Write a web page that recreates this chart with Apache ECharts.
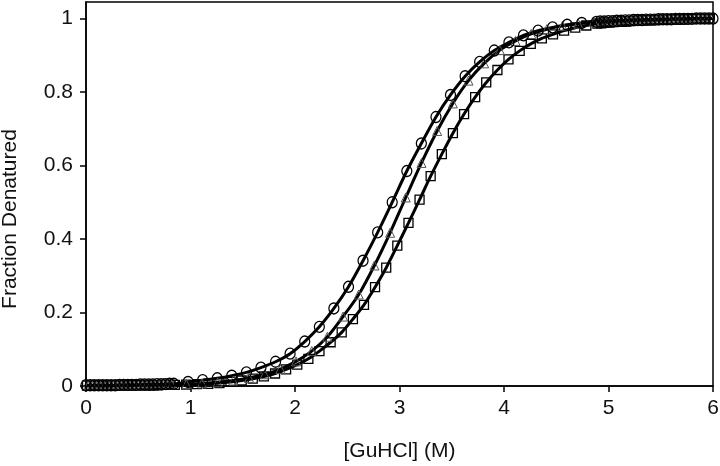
<!DOCTYPE html>
<html><head><meta charset="utf-8">
<script src="https://cdn.jsdelivr.net/npm/echarts@6/dist/echarts.min.js"></script>
<style>html,body{margin:0;padding:0;background:#fff}#c{width:720px;height:466px}</style>
</head><body><div id="c"></div>
<script>
const xTicks = [0, 1, 2, 3, 4, 5, 6];
const yTicks = [0, 0.2, 0.4, 0.6, 0.8, 1];
const yTickLabels = ['0', '0.2', '0.4', '0.6', '0.8', '1'];

// circles
const circleX = [0.00,0.04,0.08,0.12,0.16,0.20,0.24,0.28,0.32,0.36,0.40,0.44,0.48,0.52,0.56,0.60,0.64,0.68,0.72,0.76,0.80,0.84,
  0.977,1.116,1.256,1.395,1.535,1.674,1.814,1.953,2.093,2.233,2.372,2.512,2.651,2.791,2.930,3.070,3.209,3.349,3.488,3.628,3.767,3.907,4.047,4.186,4.326,4.465,4.605,4.744,4.884,
  4.92,4.96,5.00,5.04,5.08,5.12,5.16,5.20,5.24,5.28,5.32,5.36,5.40,5.44,5.48,5.52,5.56,5.60,5.64,5.68,5.72,5.76,5.80,5.84,5.88,5.92,5.96,6.00];
const circleY = [0.002,0.002,0.002,0.002,0.002,0.002,0.002,0.002,0.003,0.003,0.003,0.003,0.003,0.004,0.004,0.004,0.004,0.005,0.005,0.005,0.006,0.006,
  0.011,0.016,0.021,0.028,0.037,0.050,0.066,0.088,0.121,0.161,0.211,0.270,0.341,0.418,0.500,0.585,0.660,0.732,0.792,0.843,0.882,0.913,0.935,0.954,0.967,0.976,0.983,0.988,0.991,
  0.992,0.992,0.993,0.993,0.994,0.994,0.995,0.995,0.996,0.996,0.996,0.997,0.997,0.997,0.998,0.998,0.998,0.998,0.999,0.999,0.999,0.999,0.999,1.000,1.000,1.000,1.000,1.000];

// triangles
const triX = [0.02,0.06,0.10,0.14,0.18,0.22,0.26,0.30,0.34,0.38,0.42,0.46,0.50,0.54,0.58,0.62,0.66,0.70,0.74,0.78,0.82,
  0.96,1.11,1.26,1.41,1.56,1.71,1.86,2.01,2.16,2.31,2.46,2.61,2.76,2.91,3.06,3.21,3.36,3.51,3.66,3.81,3.96,4.11,4.26,4.41,4.56,4.71,4.86,
  4.94,4.98,5.02,5.06,5.10,5.14,5.18,5.22,5.26,5.30,5.34,5.38,5.42,5.46,5.50,5.54,5.58,5.62,5.66,5.70,5.74,5.78,5.82,5.86,5.90,5.94,5.98];
const triY = [0.001,0.001,0.001,0.001,0.001,0.001,0.001,0.001,0.002,0.002,0.002,0.002,0.002,0.002,0.003,0.003,0.003,0.003,0.004,0.004,0.004,
  0.005,0.007,0.010,0.015,0.022,0.032,0.046,0.067,0.095,0.134,0.189,0.249,0.328,0.417,0.513,0.607,0.694,0.769,0.831,0.878,0.914,0.939,0.958,0.971,0.980,0.986,0.991,
  0.992,0.993,0.993,0.994,0.994,0.995,0.995,0.996,0.996,0.996,0.997,0.997,0.997,0.998,0.998,0.998,0.998,0.999,0.999,0.999,0.999,0.999,1.000,1.000,1.000,1.000,1.000];

// squares
const squareX = [0.01,0.05,0.09,0.13,0.17,0.21,0.25,0.29,0.33,0.37,0.41,0.45,0.49,0.53,0.57,0.61,0.65,0.69,0.73,0.77,0.81,0.85,
  0.958,1.064,1.170,1.277,1.383,1.490,1.596,1.702,1.809,1.915,2.022,2.128,2.234,2.341,2.447,2.554,2.660,2.766,2.873,2.979,3.086,3.192,3.298,3.405,3.511,3.618,3.724,3.830,3.937,4.043,4.150,4.256,4.362,4.469,4.575,4.682,4.788,4.894,
  4.93,4.97,5.01,5.05,5.09,5.13,5.17,5.21,5.25,5.29,5.33,5.37,5.41,5.45,5.49,5.53,5.57,5.61,5.65,5.69,5.73,5.77,5.81,5.85,5.89,5.93,5.97];
const squareY = [0.001,0.001,0.001,0.001,0.001,0.001,0.001,0.001,0.001,0.001,0.002,0.002,0.002,0.002,0.002,0.002,0.002,0.002,0.003,0.003,0.003,0.003,
  0.004,0.005,0.006,0.008,0.011,0.015,0.020,0.026,0.034,0.045,0.058,0.074,0.095,0.119,0.146,0.182,0.221,0.269,0.322,0.382,0.444,0.507,0.571,0.631,0.688,0.740,0.786,0.826,0.860,0.889,0.912,0.931,0.946,0.957,0.967,0.975,0.981,0.986,
  0.987,0.988,0.989,0.990,0.991,0.992,0.992,0.993,0.994,0.994,0.995,0.995,0.996,0.996,0.997,0.997,0.997,0.998,0.998,0.998,0.998,0.999,0.999,0.999,0.999,0.999,0.999];

const FONT = 'Liberation Sans, Arial, sans-serif';
const pairs = (xs, ys) => xs.map((x, i) => [x, ys[i]]);

function mkSeries(name, xs, ys, symbol, size, border, bw) {
  return {
    name, type: 'line', data: pairs(xs, ys), smooth: 0.3, clip: false,
    symbol, symbolSize: size, showAllSymbol: true,
    lineStyle: { color: '#000', width: 3 },
    itemStyle: { color: 'rgba(0,0,0,0)', borderColor: border, borderWidth: bw },
    emphasis: { disabled: true }, animation: false
  };
}

const chart = echarts.init(document.getElementById('c'), null, { renderer: 'canvas' });
chart.setOption({
  animation: false,
  backgroundColor: '#fff',
  grid: { left: 86, right: 7, top: 2, bottom: 80, show: true, borderColor: '#000', borderWidth: 1.5,
          backgroundColor: 'rgba(0,0,0,0)', containLabel: false, outerBoundsMode: 'none' },
  xAxis: {
    type: 'value', min: 0, max: 6, interval: 1,
    name: '[GuHCl] (M)', nameLocation: 'middle', nameGap: 55,
    nameTextStyle: { fontFamily: FONT, fontSize: 21, color: '#111' },
    axisLine: { show: true, onZero: false, lineStyle: { color: '#000', width: 1.5 } },
    axisTick: { show: true, length: 6, lineStyle: { color: '#000', width: 1.5 }, customValues: xTicks },
    axisLabel: { fontFamily: FONT, fontSize: 21, color: '#111', margin: 12, customValues: xTicks, formatter: v => String(v) },
    splitLine: { show: false }
  },
  yAxis: {
    type: 'value', min: 0, max: 1.045, interval: 0.2,
    name: 'Fraction Denatured', nameLocation: 'middle', nameGap: 65, nameRotate: 90,
    nameTextStyle: { fontFamily: FONT, fontSize: 21, color: '#111', padding: [0, 50, 0, 0] },
    axisLine: { show: true, lineStyle: { color: '#000', width: 1.5 } },
    axisTick: { show: true, length: 6, lineStyle: { color: '#000', width: 1.5 }, customValues: yTicks },
    axisLabel: {
      fontFamily: FONT, fontSize: 21, color: '#111', margin: 13, customValues: yTicks,
      formatter: v => { const i = yTicks.findIndex(t => Math.abs(t - v) < 1e-6); return i >= 0 ? yTickLabels[i] : ''; }
    },
    splitLine: { show: false }
  },
  series: [
    mkSeries('squares', squareX, squareY, 'rect', 9, '#000', 1.3),
    mkSeries('triangles', triX, triY, 'triangle', 9, '#555', 1),
    mkSeries('circles', circleX, circleY, 'circle', [10, 11], '#000', 1.3)
  ]
});
</script>
</body></html>
